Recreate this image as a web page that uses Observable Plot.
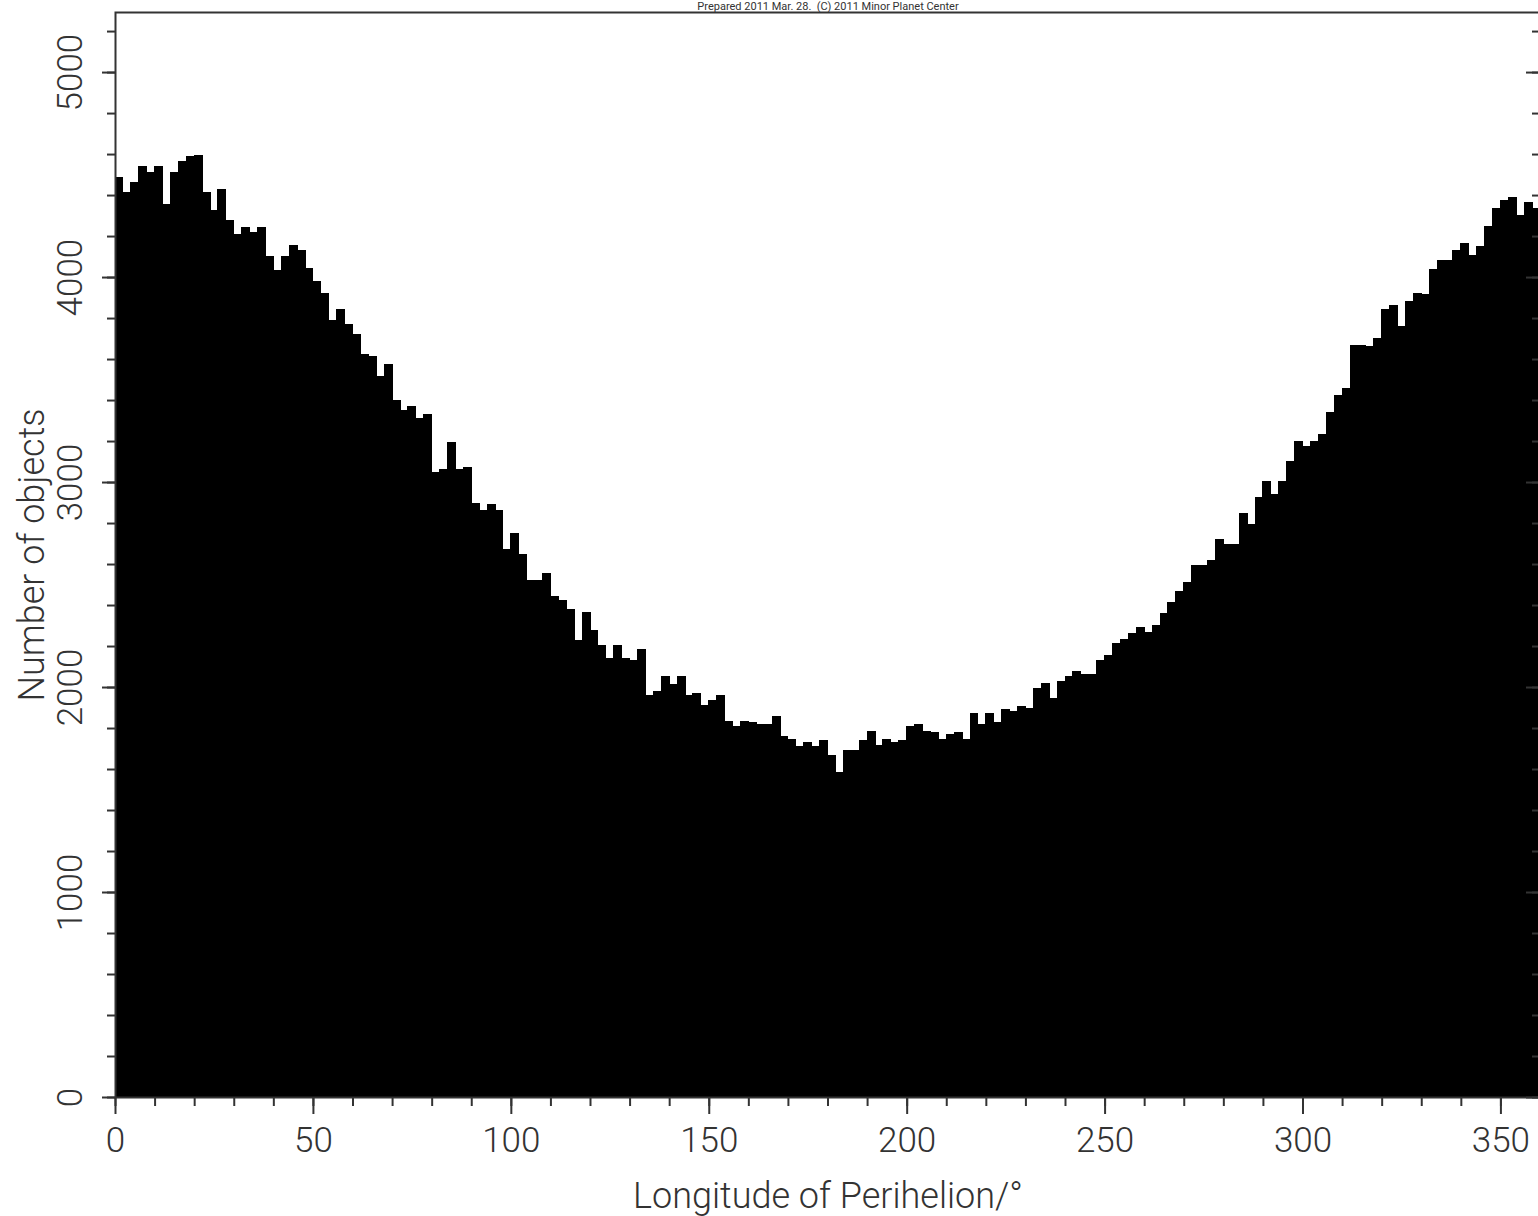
<!DOCTYPE html>
<html>
<head>
<meta charset="utf-8">
<script src="https://cdn.jsdelivr.net/npm/d3@7"></script>
<script src="https://cdn.jsdelivr.net/npm/@observablehq/plot@0.6"></script>
<style>
  html, body { margin: 0; padding: 0; background: #fff; overflow: hidden; }
  #chart { width: 1538px; height: 1216px; overflow: hidden; }
  #chart svg { max-width: none !important; }
  #chart svg text.axis-title { letter-spacing: 0.6px; }
</style>
</head>
<body>
<div id="chart"></div>
<script>
// Histogram of the longitude of perihelion, 2-degree bins from 0 to 360.
const binWidth = 2;

// Number of objects in each 2° bin, starting at 0°.
const counts = [
  4488, 4411, 4460, 4538, 4509, 4538, 4353, 4509, 4566, 4587,
  4595, 4411, 4323, 4429, 4275, 4206, 4244, 4215, 4244, 4099,
  4031, 4099, 4156, 4128, 4042, 3980, 3920, 3790, 3840, 3770,
  3720, 3620, 3610, 3514, 3571, 3397, 3348, 3367, 3309, 3328,
  3045, 3063, 3192, 3063, 3073, 2896, 2860, 2888, 2859, 2673,
  2750, 2645, 2518, 2518, 2555, 2440, 2421, 2380, 2226, 2362,
  2275, 2205, 2140, 2205, 2140, 2128, 2185, 1961, 1980, 2050,
  2010, 2050, 1961, 1969, 1912, 1933, 1961, 1834, 1806, 1834,
  1826, 1816, 1816, 1855, 1757, 1746, 1709, 1728, 1709, 1737,
  1668, 1582, 1688, 1688, 1737, 1785, 1717, 1746, 1728, 1737,
  1806, 1816, 1785, 1777, 1746, 1766, 1777, 1746, 1872, 1816,
  1872, 1826, 1891, 1883, 1904, 1894, 1992, 2018, 1943, 2029,
  2050, 2078, 2062, 2062, 2127, 2156, 2213, 2234, 2262, 2291,
  2265, 2302, 2359, 2411, 2468, 2509, 2595, 2595, 2615, 2722,
  2694, 2694, 2847, 2792, 2927, 3005, 2938, 3005, 3102, 3200,
  3172, 3200, 3232, 3338, 3424, 3454, 3668, 3668, 3660, 3698,
  3844, 3863, 3758, 3883, 3920, 3914, 4039, 4079, 4079, 4128,
  4164, 4107, 4148, 4245, 4332, 4371, 4389, 4302, 4362, 4335
];

const xMajorTicks = [0, 50, 100, 150, 200, 250, 300, 350];
const xMinorTicks = [0, 10, 20, 30, 40, 50, 60, 70, 80, 90, 100, 110, 120, 130, 140, 150, 160, 170,
                     180, 190, 200, 210, 220, 230, 240, 250, 260, 270, 280, 290, 300, 310, 320, 330, 340, 350];
const yMajorTicks = [0, 1000, 2000, 3000, 4000, 5000];
const yMinorTicks = [0, 200, 400, 600, 800, 1000, 1200, 1400, 1600, 1800, 2000, 2200, 2400, 2600,
                     2800, 3000, 3200, 3400, 3600, 3800, 4000, 4200, 4400, 4600, 4800, 5000, 5200];

const xLabel = "Longitude of Perihelion/°";
const yLabel = "Number of objects";
const credit = "Prepared 2011 Mar. 28.  (C) 2011 Minor Planet Center";

const bins = counts.map((count, i) => ({
  x1: i * binWidth,
  x2: (i + 1) * binWidth,
  count
}));

const W = 1560, H = 1216;
const M = { top: 12, right: 20, bottom: 119, left: 115 };
const plotW = W - M.left - M.right;

const ink = "#333";
const font = "Roboto, 'DejaVu Sans', sans-serif";

const chart = Plot.plot({
  width: W,
  height: H,
  marginTop: M.top,
  marginRight: M.right,
  marginBottom: M.bottom,
  marginLeft: M.left,
  style: { fontFamily: font, fontWeight: 300, background: "#fff", color: ink, maxWidth: "none" },
  x: { domain: [0, 360] },
  y: { domain: [0, 5293] },
  marks: [
    Plot.rectY(bins, {
      x1: "x1", x2: "x2", y: "count", fill: "black", stroke: "black",
      strokeWidth: 1, shapeRendering: "crispEdges"
    }),
    Plot.frame({ stroke: ink, strokeWidth: 2 }),

    // bottom axis: long ticks every 50°, short ticks every 10°
    Plot.axisX(xMajorTicks, { tickSize: 17, tickFormat: () => "", label: null, stroke: ink, strokeWidth: 2 }),
    Plot.axisX(xMinorTicks, { tickSize: 9, tickFormat: () => "", label: null, stroke: ink, strokeWidth: 2 }),
    Plot.text(xMajorTicks, {
      x: d => d, text: d => String(d), frameAnchor: "bottom", dy: 43,
      lineAnchor: "middle", fontSize: 35, fill: ink, fontWeight: 300
    }),

    // left axis: outward ticks, rotated labels
    Plot.axisY(yMajorTicks, { tickSize: 13, tickFormat: () => "", label: null, stroke: ink, strokeWidth: 2 }),
    Plot.axisY(yMinorTicks, { tickSize: 8, tickFormat: () => "", label: null, stroke: ink, strokeWidth: 2 }),
    Plot.text(yMajorTicks, {
      y: d => d, text: d => String(d), frameAnchor: "left", dx: -45, rotate: -90,
      textAnchor: "middle", lineAnchor: "middle", fontSize: 35, fill: ink, fontWeight: 300
    }),

    // right side: inward ticks
    Plot.ruleY(yMajorTicks, { y: d => d, insetLeft: plotW - 14, stroke: ink, strokeWidth: 2 }),
    Plot.ruleY(yMinorTicks, { y: d => d, insetLeft: plotW - 8, stroke: ink, strokeWidth: 2 }),

    // axis titles
    Plot.text([xLabel], {
      text: d => d, frameAnchor: "bottom", dy: 99, lineAnchor: "middle",
      fontSize: 36, fill: ink, fontWeight: 300, className: "axis-title"
    }),
    Plot.text([yLabel], {
      text: d => d, frameAnchor: "left", dx: -83, rotate: -90,
      textAnchor: "middle", lineAnchor: "middle", fontSize: 36, fill: ink, fontWeight: 300,
      className: "axis-title"
    }),

    // credit line in the strip above the frame
    Plot.text([credit], {
      text: d => d, frameAnchor: "top", dy: -3, lineAnchor: "bottom",
      fontSize: 11, fill: ink, fontWeight: 400
    })
  ]
});

document.getElementById("chart").appendChild(chart);
</script>
</body>
</html>
